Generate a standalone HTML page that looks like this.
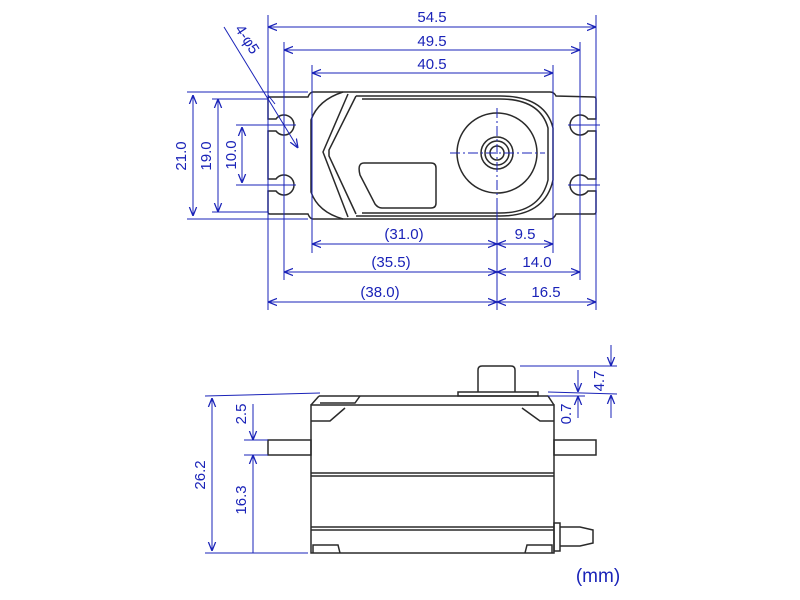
<!DOCTYPE html>
<html><head><style>html,body{margin:0;padding:0;background:#fff}svg{display:block}</style></head><body>
<svg width="800" height="600" viewBox="0 0 800 600" xmlns="http://www.w3.org/2000/svg" font-family="Liberation Sans, sans-serif">
<defs>
<marker id="a" viewBox="0 0 10 10" refX="10" refY="5" markerWidth="9" markerHeight="9" orient="auto-start-reverse" markerUnits="userSpaceOnUse"><path d="M0,1 L10,5 L0,9" fill="none" stroke="#1a23b8" stroke-width="1.4"/></marker>
</defs>
<g stroke="#2a2a2a" stroke-width="1.5" fill="none">
<path d="M313,92 L550,92 Q554,92 556,96 L594,97 Q596,97 596,99 L596,119 L588,119 A10,10 0 1 0 588,131 L596,131 L596,179 L588,179 A10,10 0 1 0 588,191 L596,191 L596,212 Q596,214 594,214 L556,214 Q554,219 550,219 L313,219 Q310,219 308,214 L270,214 Q268,214 268,212 L268,191 L276,191 A10,10 0 1 0 276,179 L268,179 L268,131 L276,131 A10,10 0 1 0 276,119 L268,119 L268,99 Q268,97 270,97 L308,97 Q310,92 313,92 Z"/>
<path d="M343,92 Q318,100 311,120 L311,192 Q318,212 343,219"/>
<path d="M348,94 L323,152 L348,217"/>
<path d="M356,96 L329,150 L329,156 L356,214"/>
<path d="M356,96 L500,96 Q545,96 553,128 L553,180 Q545,216 500,216 L356,216"/>
<path d="M362,99 L500,99 Q540,99 548,128 L548,180 Q540,213 500,213 L362,213"/>
<path d="M364,163 L431,163 Q436,163 436,168 L436,203 Q436,208 431,208 L382,208 Q378,208 375,204 L360,175 Q357,163 364,163 Z"/>
<circle cx="497" cy="153" r="40"/>
<circle cx="497" cy="153" r="16"/>
<circle cx="497" cy="153" r="12"/>
<circle cx="497" cy="153" r="7"/>
<rect x="311" y="405" width="243" height="148"/>
<line x1="311" y1="473" x2="554" y2="473"/>
<line x1="311" y1="476" x2="554" y2="476"/>
<line x1="311" y1="527" x2="554" y2="527"/>
<line x1="311" y1="530" x2="554" y2="530"/>
<path d="M319,396 L548,396 L554,405"/>
<path d="M311,405 L319,396"/>
<path d="M320,403 L355,403 L360,396"/>
<path d="M311,421 L330,421 L345,408"/>
<path d="M554,421 L540,421 L522,408"/>
<rect x="458" y="392" width="80" height="4"/>
<path d="M478,392 L478,370 Q478,366 482,366 L511,366 Q515,366 515,370 L515,392"/>
<rect x="268" y="440" width="43" height="15"/>
<rect x="554" y="440" width="42" height="15"/>
<path d="M313,553 L313,545 L338,545 L340,553"/>
<path d="M525,553 L527,545 L552,545 L552,553"/>
<rect x="554" y="523" width="6" height="28"/>
<path d="M560,527 L580,527 L593,530 L593,543 L580,546 L560,546"/>
</g>
<g stroke="#1a23b8" stroke-width="1" fill="none" stroke-dasharray="10,3,2,3">
<line x1="450" y1="153" x2="545" y2="153"/>
<line x1="497" y1="108" x2="497" y2="198"/>
</g>
<g stroke="#1a23b8" stroke-width="1" fill="none">
<line x1="262" y1="125" x2="296" y2="125"/><line x1="262" y1="185" x2="296" y2="185"/>
<line x1="568" y1="125" x2="600" y2="125"/><line x1="568" y1="185" x2="600" y2="185"/>
<line x1="268" y1="15" x2="268" y2="310"/><line x1="596" y1="15" x2="596" y2="310"/>
<line x1="284" y1="42" x2="284" y2="280"/><line x1="580" y1="42" x2="580" y2="280"/>
<line x1="312" y1="65" x2="312" y2="253"/><line x1="553" y1="65" x2="553" y2="253"/>
<line x1="497" y1="198" x2="497" y2="310"/>
<line x1="187" y1="92" x2="308" y2="92"/><line x1="187" y1="219" x2="308" y2="219"/>
<line x1="212" y1="99" x2="268" y2="99"/><line x1="212" y1="212" x2="268" y2="212"/>
<line x1="236" y1="125" x2="262" y2="125"/><line x1="236" y1="185" x2="262" y2="185"/>
<line x1="268" y1="27" x2="596" y2="27" marker-start="url(#a)" marker-end="url(#a)"/>
<line x1="284" y1="50" x2="580" y2="50" marker-start="url(#a)" marker-end="url(#a)"/>
<line x1="312" y1="73" x2="553" y2="73" marker-start="url(#a)" marker-end="url(#a)"/>
<line x1="193" y1="95" x2="193" y2="216" marker-start="url(#a)" marker-end="url(#a)"/>
<line x1="218" y1="99" x2="218" y2="212" marker-start="url(#a)" marker-end="url(#a)"/>
<line x1="242" y1="127" x2="242" y2="183" marker-start="url(#a)" marker-end="url(#a)"/>
<line x1="312" y1="244" x2="497" y2="244" marker-start="url(#a)" marker-end="url(#a)"/>
<line x1="497" y1="244" x2="553" y2="244" marker-start="url(#a)" marker-end="url(#a)"/>
<line x1="284" y1="272" x2="497" y2="272" marker-start="url(#a)" marker-end="url(#a)"/>
<line x1="497" y1="272" x2="580" y2="272" marker-start="url(#a)" marker-end="url(#a)"/>
<line x1="268" y1="302" x2="497" y2="302" marker-start="url(#a)" marker-end="url(#a)"/>
<line x1="497" y1="302" x2="596" y2="302" marker-start="url(#a)" marker-end="url(#a)"/>
<line x1="224" y1="27" x2="298" y2="148" marker-end="url(#a)"/>
<path d="M275,104 L268,95"/>
<line x1="205" y1="396" x2="320" y2="393"/>
<line x1="205" y1="553" x2="308" y2="553"/>
<line x1="244" y1="440" x2="268" y2="440"/><line x1="244" y1="455" x2="268" y2="455"/>
<line x1="212" y1="398" x2="212" y2="551" marker-start="url(#a)" marker-end="url(#a)"/>
<line x1="253" y1="404" x2="253" y2="440" marker-end="url(#a)"/>
<line x1="253" y1="455" x2="253" y2="553" marker-start="url(#a)"/>
<line x1="520" y1="366" x2="617" y2="366"/>
<line x1="548" y1="392" x2="617" y2="394"/>
<line x1="548" y1="396" x2="585" y2="396"/>
<line x1="611" y1="345" x2="611" y2="366" marker-end="url(#a)"/>
<line x1="611" y1="418" x2="611" y2="395" marker-end="url(#a)"/>
<line x1="578" y1="370" x2="578" y2="392" marker-end="url(#a)"/>
<line x1="578" y1="418" x2="578" y2="396" marker-end="url(#a)"/>
</g>
<g fill="#1a23b8" font-size="15" text-anchor="middle">
<text x="432" y="22">54.5</text>
<text x="432" y="46">49.5</text>
<text x="432" y="69">40.5</text>
<text x="404" y="239">(31.0)</text>
<text x="525" y="239">9.5</text>
<text x="391" y="267">(35.5)</text>
<text x="537" y="267">14.0</text>
<text x="380" y="297">(38.0)</text>
<text x="546" y="297">16.5</text>
<text transform="translate(186,156) rotate(-90)">21.0</text>
<text transform="translate(211,156) rotate(-90)">19.0</text>
<text transform="translate(236,155) rotate(-90)">10.0</text>
<text transform="translate(243,42) rotate(57)">4-φ5</text>
<text transform="translate(205,475) rotate(-90)">26.2</text>
<text transform="translate(246,414) rotate(-90)">2.5</text>
<text transform="translate(246,500) rotate(-90)">16.3</text>
<text transform="translate(604,381) rotate(-90)">4.7</text>
<text transform="translate(571,414) rotate(-90)">0.7</text>
<text x="598" y="582" font-size="19">(mm)</text>
</g>
</svg>
</body></html>
